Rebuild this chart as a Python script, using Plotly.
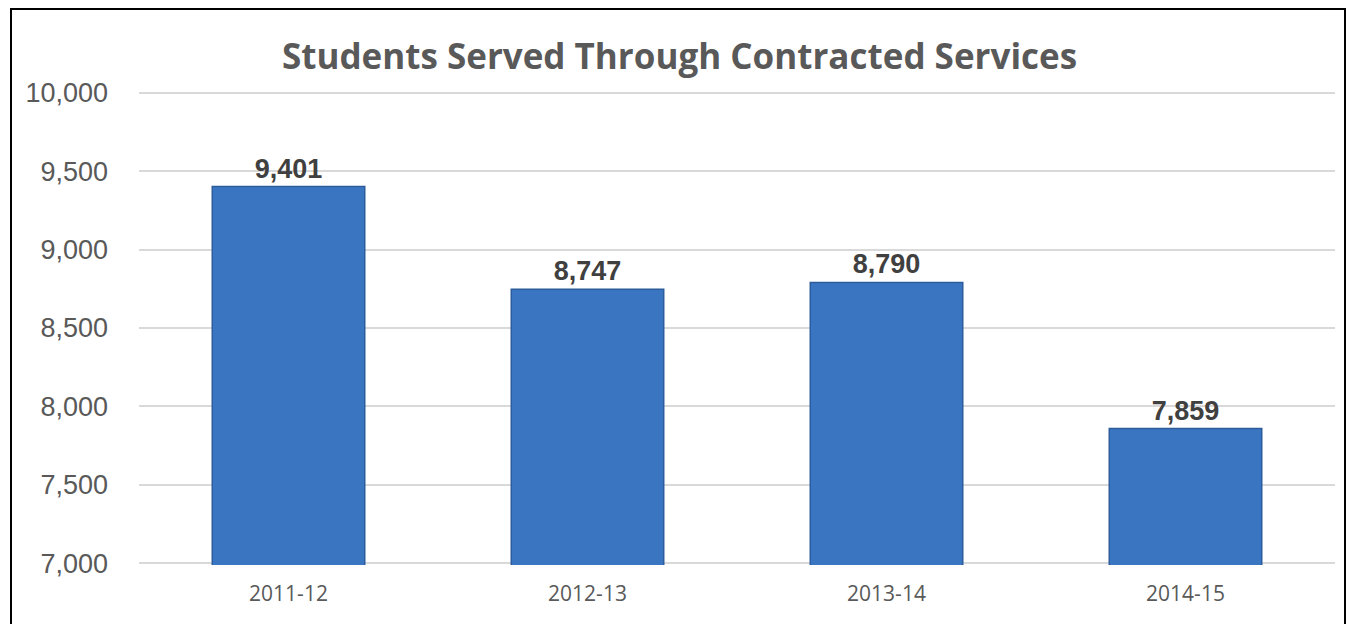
import plotly.graph_objects as go

# School years and number of students served
years = ["2011-12", "2012-13", "2013-14", "2014-15"]
students = [9401, 8747, 8790, 7859]

y_ticks = [7000, 7500, 8000, 8500, 9000, 9500, 10000]

fig = go.Figure()

fig.add_trace(go.Bar(
    x=years,
    y=students,
    marker=dict(color="#3A75C2", line=dict(color="#2D5C9C", width=1.5)),
    text=[f"{v:,}" for v in students],
    textposition="outside",
    textfont=dict(family="Liberation Sans, Arial, sans-serif", size=27, color="#404040"),
    texttemplate="<b>%{text}</b>",
    cliponaxis=False,
    width=0.51,
))

fig.update_layout(
    width=1351,
    height=624,
    margin=dict(l=139, r=16, t=91, b=59),
    paper_bgcolor="white",
    plot_bgcolor="white",
    showlegend=False,
    title=dict(
        text="<b>Students Served Through Contracted Services</b>",
        x=0.503, xref="container", xanchor="center",
        y=1 - 57 / 624, yref="container", yanchor="middle",
        font=dict(family="Open Sans, sans-serif", size=35, color="#595959"),
    ),
    xaxis=dict(
        type="category",
        showgrid=False,
        showline=False,
        ticks="",
        ticklabelstandoff=14,
        tickfont=dict(family="Open Sans, sans-serif", size=21, color="#595959"),
    ),
    yaxis=dict(
        range=[6990, 10010],
        tickvals=y_ticks,
        ticktext=[f"{v:,}" for v in y_ticks],
        showgrid=True,
        gridcolor="#D9D9D9",
        gridwidth=1.5,
        zeroline=False,
        showline=False,
        ticks="",
        ticklabelstandoff=30,
        tickfont=dict(family="Liberation Sans, Arial, sans-serif", size=27, color="#595959"),
    ),
    shapes=[dict(
        type="rect", xref="paper", yref="paper",
        x0=(11 - 139) / 1196, x1=(1345 - 139) / 1196,
        y0=-0.2, y1=(565 - 9) / 474,
        line=dict(color="black", width=2),
        fillcolor="rgba(0,0,0,0)",
        layer="below",
    )],
)

fig.write_html("out.html")
